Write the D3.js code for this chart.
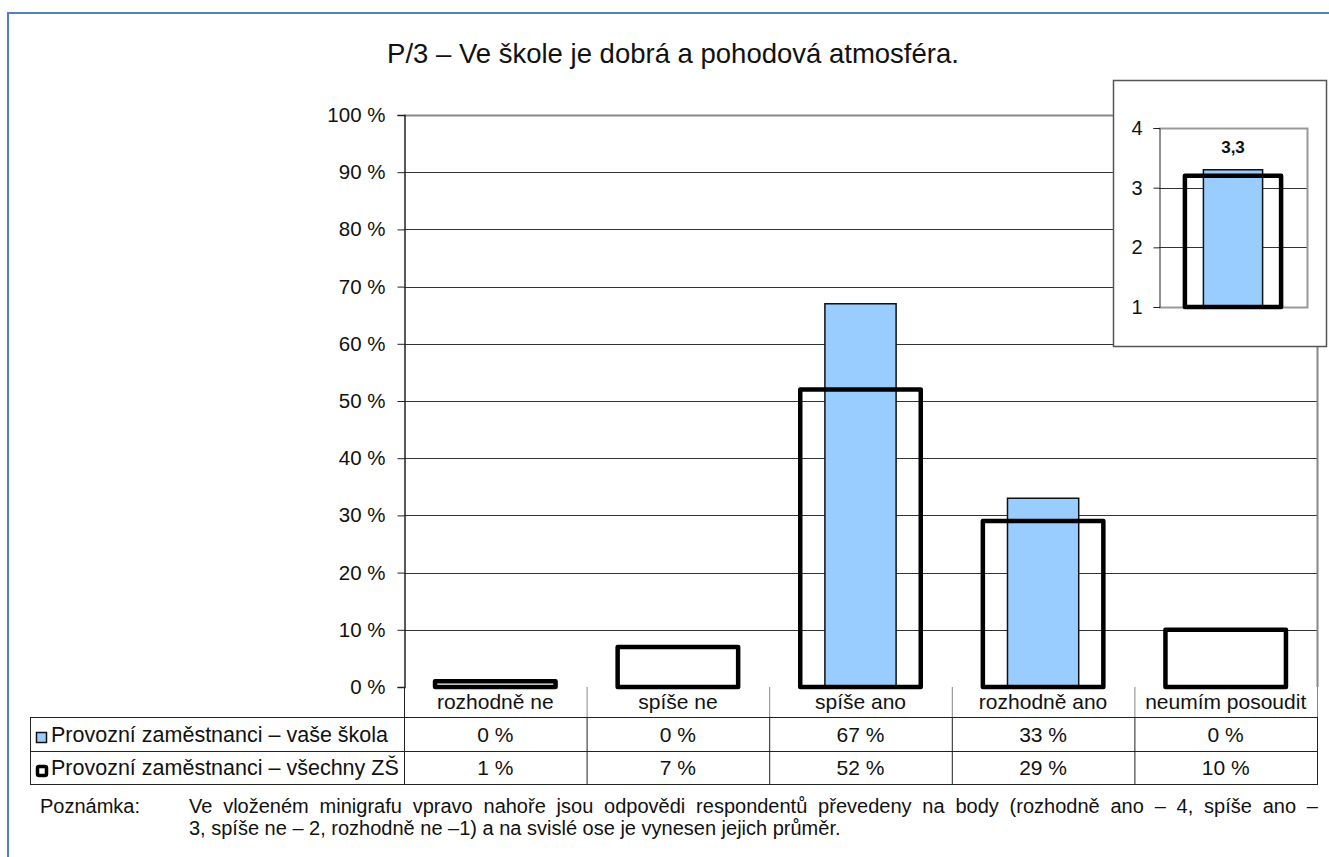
<!DOCTYPE html>
<html>
<head>
<meta charset="utf-8">
<script src="https://cdn.jsdelivr.net/npm/d3@7"></script>
<style>
  body { margin: 0; background: #fff; }
  text { font-family: "Liberation Sans", Arial, sans-serif; fill: #111; }
</style>
</head>
<body>
<script>
var categories = ["rozhodně ne", "spíše ne", "spíše ano", "rozhodně ano", "neumím posoudit"];
var seriesNames = ["Provozní zaměstnanci – vaše škola", "Provozní zaměstnanci – všechny ZŠ"];
var schoolValues = [0, 0, 67, 33, 0];
var allValues = [1, 7, 52, 29, 10];
var yTicks = [0, 10, 20, 30, 40, 50, 60, 70, 80, 90, 100];
var insetTicks = [1, 2, 3, 4];
var insetSchool = 3.3;
var insetAll = 3.2;
var title = "P/3 – Ve škole je dobrá a pohodová atmosféra.";
var noteLabel = "Poznámka:";
var noteLines = [
  "Ve vloženém minigrafu vpravo nahoře jsou odpovědi respondentů převedeny na body (rozhodně ano – 4, spíše ano –",
  "3, spíše ne – 2, rozhodně ne –1) a na svislé ose je vynesen jejich průměr."
];

var W = 1329, H = 857;
var svg = d3.select("body").append("svg").attr("width", W).attr("height", H);

// outer frame
svg.append("rect").attr("x", 8).attr("y", 13).attr("width", 1340).attr("height", 900)
  .attr("fill", "none").attr("stroke", "#4f81bd").attr("stroke-width", 2);

svg.append("text").attr("x", 673).attr("y", 63).attr("text-anchor", "middle")
  .style("font-size", "27.5px").text(title);

var pLeft = 404, pRight = 1317, pTop = 115, pBottom = 687;
var x = d3.scaleBand().domain(categories).range([pLeft, pRight]);
var y = d3.scaleLinear().domain([0, 100]).range([pBottom, pTop]);

// gridlines
svg.append("g").selectAll("line").data(yTicks.filter(function(d) { return d > 0 && d < 100; }))
  .enter().append("line")
  .attr("x1", pLeft).attr("x2", pRight)
  .attr("y1", function(d) { return Math.round(y(d)) + 0.5; })
  .attr("y2", function(d) { return Math.round(y(d)) + 0.5; })
  .attr("stroke", "#333").attr("stroke-width", 1);

// plot frame top / right (grey)
svg.append("path").attr("d", "M" + pLeft + "," + (pTop + 0.5) + "H" + (pRight + 0.5) + "V" + pBottom)
  .attr("fill", "none").attr("stroke", "#888").attr("stroke-width", 2);

// y axis
var yAxis = d3.axisLeft(y).tickValues(yTicks).tickSize(7).tickPadding(12)
  .tickFormat(function(d) { return d + " %"; });
var ga = svg.append("g").attr("transform", "translate(" + (pLeft + 0.5) + ",0)").call(yAxis);
ga.select(".domain").attr("stroke", "#222").attr("stroke-width", 1.5);
ga.selectAll(".tick line").attr("stroke", "#222");
ga.selectAll(".tick text").style("font-size", "20.5px").attr("font-family", null).attr("fill", "#111");

// bars: school (blue)
var bw1 = x.bandwidth() * 0.39;
svg.append("g").selectAll("rect").data(categories).enter()
  .filter(function(d, i) { return schoolValues[i] > 0; })
  .append("rect")
  .attr("x", function(d) { return x(d) + (x.bandwidth() - bw1) / 2; })
  .attr("y", function(d) { return y(schoolValues[categories.indexOf(d)]); })
  .attr("width", bw1)
  .attr("height", function(d) { return pBottom - y(schoolValues[categories.indexOf(d)]); })
  .attr("fill", "#99ccff").attr("stroke", "#111").attr("stroke-width", 1.5);

// bars: all schools (black outline)
var bw2 = x.bandwidth() * 0.66;
svg.append("g").selectAll("rect").data(categories).enter().append("rect")
  .attr("x", function(d) { return x(d) + (x.bandwidth() - bw2) / 2; })
  .attr("y", function(d, i) { return y(allValues[i]); })
  .attr("width", bw2)
  .attr("height", function(d, i) { return pBottom - y(allValues[i]); })
  .attr("fill", "none").attr("stroke", "#000").attr("stroke-width", 4.5)
  .attr("stroke-linejoin", "round");

// data table
var tLeft = 30, r0 = 687, r1 = 717, r2 = 751, r3 = 784;
var tbl = svg.append("g");
// header row vertical dividers (grey)
tbl.selectAll("line.hdr").data(categories.slice(1)).enter().append("line")
  .attr("x1", function(d) { return x(d) + 0.5; }).attr("x2", function(d) { return x(d) + 0.5; })
  .attr("y1", r0).attr("y2", r1).attr("stroke", "#888");
tbl.append("line").attr("x1", pRight + 0.5).attr("x2", pRight + 0.5).attr("y1", r0).attr("y2", r1).attr("stroke", "#888");
tbl.append("line").attr("x1", pLeft + 0.5).attr("x2", pLeft + 0.5).attr("y1", r0).attr("y2", r3).attr("stroke", "#222");
// body rows
[r1, r2, r3].forEach(function(ry) {
  tbl.append("line").attr("x1", tLeft).attr("x2", pRight + 1).attr("y1", ry + 0.5).attr("y2", ry + 0.5).attr("stroke", "#222");
});
tbl.selectAll("line.body").data(categories.slice(1)).enter().append("line")
  .attr("x1", function(d) { return x(d) + 0.5; }).attr("x2", function(d) { return x(d) + 0.5; })
  .attr("y1", r1).attr("y2", r3).attr("stroke", "#222");
tbl.append("line").attr("x1", tLeft + 0.5).attr("x2", tLeft + 0.5).attr("y1", r1).attr("y2", r3 + 1).attr("stroke", "#222");
tbl.append("line").attr("x1", pRight + 0.5).attr("x2", pRight + 0.5).attr("y1", r1).attr("y2", r3 + 1).attr("stroke", "#222");

tbl.selectAll("text.cat").data(categories).enter().append("text")
  .attr("x", function(d) { return x(d) + x.bandwidth() / 2; }).attr("y", 709)
  .attr("text-anchor", "middle").style("font-size", "21px").text(function(d) { return d; });
tbl.selectAll("text.v1").data(schoolValues).enter().append("text")
  .attr("x", function(d, i) { return x(categories[i]) + x.bandwidth() / 2; }).attr("y", 742)
  .attr("text-anchor", "middle").style("font-size", "21px").text(function(d) { return d + " %"; });
tbl.selectAll("text.v2").data(allValues).enter().append("text")
  .attr("x", function(d, i) { return x(categories[i]) + x.bandwidth() / 2; }).attr("y", 775)
  .attr("text-anchor", "middle").style("font-size", "21px").text(function(d) { return d + " %"; });

// legend keys
tbl.append("rect").attr("x", 36.5).attr("y", 732.5).attr("width", 10).attr("height", 10)
  .attr("fill", "#99ccff").attr("stroke", "#111").attr("stroke-width", 1.5);
tbl.append("rect").attr("x", 37.5).attr("y", 766.5).attr("width", 9).attr("height", 9)
  .attr("fill", "#fff").attr("stroke", "#000").attr("stroke-width", 3.5).attr("rx", 1.5);
tbl.selectAll("text.leg").data(seriesNames).enter().append("text")
  .attr("x", 51).attr("y", function(d, i) { return i === 0 ? 742 : 775; })
  .style("font-size", "21.5px").text(function(d) { return d; });

// note (first line justified to the right edge)
svg.append("text").attr("x", 40).attr("y", 813).style("font-size", "20px").attr("fill", "#222").text(noteLabel);
svg.selectAll("text.note").data(noteLines).enter().append("text")
  .attr("x", 189).attr("y", function(d, i) { return 813 + i * 22; })
  .style("font-size", "20px").attr("fill", "#222").text(function(d) { return d; })
  .each(function(d, i) {
    if (i > 0) return;
    var w = this.getComputedTextLength();
    var n = d.split(" ").length - 1;
    d3.select(this).style("word-spacing", Math.max(0, (1318 - 189 - w) / n) + "px");
  });

// inset chart
var ins = svg.append("g");
ins.append("rect").attr("x", 1113.5).attr("y", 80.5).attr("width", 213).attr("height", 266)
  .attr("fill", "#fff").attr("stroke", "#555").attr("stroke-width", 1.5);
var iL = 1159, iR = 1307, iT = 128, iB = 307;
var iy = d3.scaleLinear().domain([1, 4]).range([iB, iT]);
var ix = d3.scaleBand().domain(["avg"]).range([iL, iR]);
ins.selectAll("line.g").data([2, 3]).enter().append("line")
  .attr("x1", iL).attr("x2", iR)
  .attr("y1", function(d) { return Math.round(iy(d)) + 0.5; })
  .attr("y2", function(d) { return Math.round(iy(d)) + 0.5; })
  .attr("stroke", "#333");
ins.append("path").attr("d", "M" + iL + "," + (iT + 0.5) + "H" + (iR + 0.5) + "V" + (iB + 0.5) + "H" + iL)
  .attr("fill", "none").attr("stroke", "#999").attr("stroke-width", 2);
var iAxis = d3.axisLeft(iy).tickValues(insetTicks).tickSize(6).tickPadding(11).tickFormat(d3.format("d"));
var gi = ins.append("g").attr("transform", "translate(" + (iL + 0.5) + ",0)").call(iAxis);
gi.select(".domain").attr("stroke", "#222");
gi.selectAll(".tick line").attr("stroke", "#222");
gi.selectAll(".tick text").style("font-size", "20px").attr("font-family", null).attr("fill", "#111");

var ibw1 = ix.bandwidth() * 0.4;
ins.append("rect").attr("x", ix("avg") + (ix.bandwidth() - ibw1) / 2).attr("y", iy(insetSchool))
  .attr("width", ibw1).attr("height", iB - iy(insetSchool))
  .attr("fill", "#99ccff").attr("stroke", "#111").attr("stroke-width", 1.5);
var ibw2 = ix.bandwidth() * 0.65;
ins.append("rect").attr("x", ix("avg") + (ix.bandwidth() - ibw2) / 2).attr("y", iy(insetAll))
  .attr("width", ibw2).attr("height", iB - iy(insetAll))
  .attr("fill", "none").attr("stroke", "#000").attr("stroke-width", 4.5).attr("stroke-linejoin", "round");
ins.append("text").attr("x", ix("avg") + ix.bandwidth() / 2).attr("y", 153)
  .attr("text-anchor", "middle").style("font-size", "17px").style("font-weight", "bold")
  .text(d3.format(".1f")(insetSchool).replace(".", ","));
</script>
</body>
</html>
